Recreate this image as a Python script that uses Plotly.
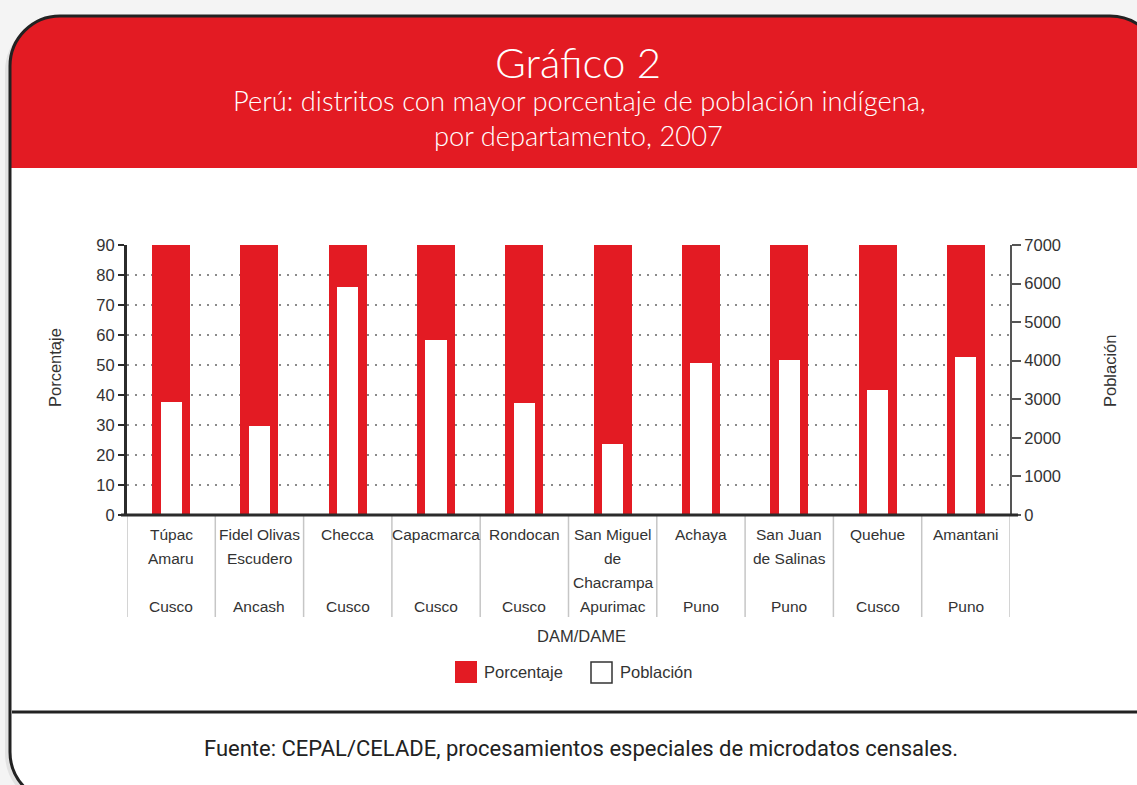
import plotly.graph_objects as go

# ---------------- data ----------------
distritos = ["Túpac Amaru", "Fidel Olivas Escudero", "Checca", "Capacmarca", "Rondocan",
             "San Miguel de Chacrampa", "Achaya", "San Juan de Salinas", "Quehue", "Amantani"]
label_lines = [["Túpac", "Amaru"], ["Fidel Olivas", "Escudero"], ["Checca"], ["Capacmarca"],
               ["Rondocan"], ["San Miguel", "de", "Chacrampa"], ["Achaya"], ["San Juan", "de Salinas"],
               ["Quehue"], ["Amantani"]]
departamentos = ["Cusco", "Ancash", "Cusco", "Cusco", "Cusco", "Apurimac", "Puno", "Puno", "Cusco", "Puno"]
porcentaje = [98.9, 98.8, 98.7, 98.6, 98.4, 98.4, 98.3, 98.2, 98.1, 98.0]
poblacion = [2927, 2303, 5920, 4541, 2901, 1835, 3942, 4020, 3240, 4098]
y_ticks = [0, 10, 20, 30, 40, 50, 60, 70, 80, 90]
y2_ticks = [0, 1000, 2000, 3000, 4000, 5000, 6000, 7000]

RED = "#E31B23"
DARK = "#2b2b2b"
TXT = "#333333"
W, H = 1137, 785
L, R, T, B = 127, 1010, 245, 515  # plot area in pixels


def X(px):
    return (px - L) / (R - L)


def Y(py):
    return (B - py) / (B - T)


def P(x, y):
    return f"{X(x):.5f},{Y(y):.5f}"


def rounded_path(x0, y0, x1, y1, r, bottom_round=True):
    k = 0.5523 * r
    s = f"M {P(x0, y0 + r)} C {P(x0, y0 + r - k)} {P(x0 + r - k, y0)} {P(x0 + r, y0)} "
    s += f"L {P(x1 - r, y0)} C {P(x1 - r + k, y0)} {P(x1, y0 + r - k)} {P(x1, y0 + r)} "
    if bottom_round:
        s += f"L {P(x1, y1 - r)} C {P(x1, y1 - r + k)} {P(x1 - r + k, y1)} {P(x1 - r, y1)} "
        s += f"L {P(x0 + r, y1)} C {P(x0 + r - k, y1)} {P(x0, y1 - r + k)} {P(x0, y1 - r)} Z"
    else:
        s += f"L {P(x1, y1)} L {P(x0, y1)} Z"
    return s


fig = go.Figure()
fig.add_trace(go.Bar(x=distritos, y=porcentaje, name="Porcentaje", marker=dict(color=RED, line=dict(width=0)),
                     width=0.43, yaxis="y", showlegend=False, hoverinfo="x+y"))
fig.add_trace(go.Bar(x=distritos, y=poblacion, name="Población", marker=dict(color="white", line=dict(width=0)),
                     width=0.24, yaxis="y2", showlegend=False, hoverinfo="x+y"))

shapes = []
# shadow + card
shapes.append(dict(type="path", xref="paper", yref="paper", layer="below",
                   path=rounded_path(5, 19, 1160, 806, 52), fillcolor="#e2e2e2", line=dict(width=0)))
shapes.append(dict(type="path", xref="paper", yref="paper", layer="below",
                   path=rounded_path(10, 16, 1160, 802, 50), fillcolor="white", line=dict(width=0)))
shapes.append(dict(type="path", xref="paper", yref="paper", layer="below",
                   path=rounded_path(10, 16, 1160, 168, 50, bottom_round=False), fillcolor=RED, line=dict(width=0)))
shapes.append(dict(type="path", xref="paper", yref="paper", layer="below",
                   path=rounded_path(10, 16, 1160, 802, 50), fillcolor="rgba(0,0,0,0)", line=dict(color="#222", width=3)))
# footer separator
shapes.append(dict(type="line", xref="paper", yref="paper", layer="below",
                   x0=X(12), x1=X(1140), y0=Y(712), y1=Y(712), line=dict(color="#222", width=3)))
# category separators
for i in range(len(distritos) + 1):
    shapes.append(dict(type="line", xref="x", yref="paper", layer="above",
                       x0=i - 0.5, x1=i - 0.5, y0=Y(516), y1=Y(617), line=dict(color="#c6c6c6", width=1.5)))
# baseline
shapes.append(dict(type="line", xref="paper", yref="paper", layer="above",
                   x0=X(121), x1=X(1018), y0=0, y1=0, line=dict(color=DARK, width=3)))
# legend boxes
shapes.append(dict(type="rect", xref="paper", yref="paper", layer="above",
                   x0=X(455), x1=X(477), y0=Y(661), y1=Y(683), fillcolor=RED, line=dict(width=0)))
shapes.append(dict(type="rect", xref="paper", yref="paper", layer="above",
                   x0=X(591), x1=X(612), y0=Y(662), y1=Y(683), fillcolor="white", line=dict(color="#333", width=1.5)))

ann = []
F = "Liberation Sans, Arial, sans-serif"
TF = "Lato, Roboto, sans-serif"
FF = "Roboto, Liberation Sans, sans-serif"
ann.append(dict(text="Gráfico 2", x=X(578), y=Y(62), font=dict(family=TF, size=42, color="white", weight=300)))
ann.append(dict(text="Perú: distritos con mayor porcentaje de población indígena,", x=X(579), y=Y(101),
                font=dict(family=TF, size=27.3, color="white", weight=300)))
ann.append(dict(text="por departamento, 2007", x=X(578), y=Y(135),
                font=dict(family=TF, size=27.3, color="white", weight=300)))
ann.append(dict(text="Fuente: CEPAL/CELADE, procesamientos especiales de microdatos censales.", x=X(581), y=Y(748),
                font=dict(family=FF, size=22, color="#222")))
ann.append(dict(text="Porcentaje", x=X(55), y=Y(368), textangle=-90, font=dict(family=F, size=16.5, color=TXT)))
ann.append(dict(text="Población", x=X(1110), y=Y(371), textangle=-90, font=dict(family=F, size=16.5, color=TXT)))
ann.append(dict(text="DAM/DAME", x=X(581), y=Y(636), font=dict(family=F, size=16.5, color=TXT)))
ann.append(dict(text="Porcentaje", x=X(482), y=Y(672), xanchor="left", font=dict(family=F, size=16.5, color=TXT)))
ann.append(dict(text="Población", x=X(618), y=Y(672), xanchor="left", font=dict(family=F, size=16.5, color=TXT)))
for i, (lines, dep) in enumerate(zip(label_lines, departamentos)):
    for j, ln in enumerate(lines):
        ann.append(dict(text=ln, x=distritos[i], xref="x", y=Y(534 + 24 * j), font=dict(family=F, size=15.5, color=TXT)))
    ann.append(dict(text=dep, x=distritos[i], xref="x", y=Y(606), font=dict(family=F, size=15.5, color=TXT)))
for a in ann:
    a.setdefault("xref", "paper")
    a.setdefault("yref", "paper")
    a.setdefault("xanchor", "center")
    a.setdefault("yanchor", "middle")
    a["showarrow"] = False

fig.update_layout(
    width=W, height=H,
    margin=dict(l=L, r=W - R, t=T, b=H - B, pad=0),
    paper_bgcolor="#f4f4f4", plot_bgcolor="rgba(0,0,0,0)",
    barmode="overlay", bargap=0,
    shapes=shapes, annotations=ann,
    font=dict(family=F, color=TXT),
    xaxis=dict(type="category", range=[-0.5, 9.5], showticklabels=False, showline=False, showgrid=False,
               ticks="", zeroline=False, fixedrange=True),
    yaxis=dict(range=[0, 90], tickvals=y_ticks, showline=True, linecolor=DARK, linewidth=3,
               ticks="outside", ticklen=6, tickwidth=2, tickcolor=DARK,
               showgrid=True, gridcolor="#8a8a8a", gridwidth=2, griddash="2px,6px", zeroline=False,
               tickfont=dict(family=F, size=16.5, color=TXT), automargin=False, fixedrange=True),
    yaxis2=dict(range=[0, 7000], tickvals=y2_ticks, overlaying="y", side="right", showline=True,
                linecolor="#555", linewidth=2, ticks="outside", ticklen=9, tickwidth=2, tickcolor="#555",
                showgrid=False, zeroline=False, tickfont=dict(family=F, size=16.5, color=TXT),
                automargin=False, fixedrange=True),
)

fig.write_html("out.html", config={"displayModeBar": False},
               post_script="document.body.style.margin='0';document.body.style.overflow='hidden';")
